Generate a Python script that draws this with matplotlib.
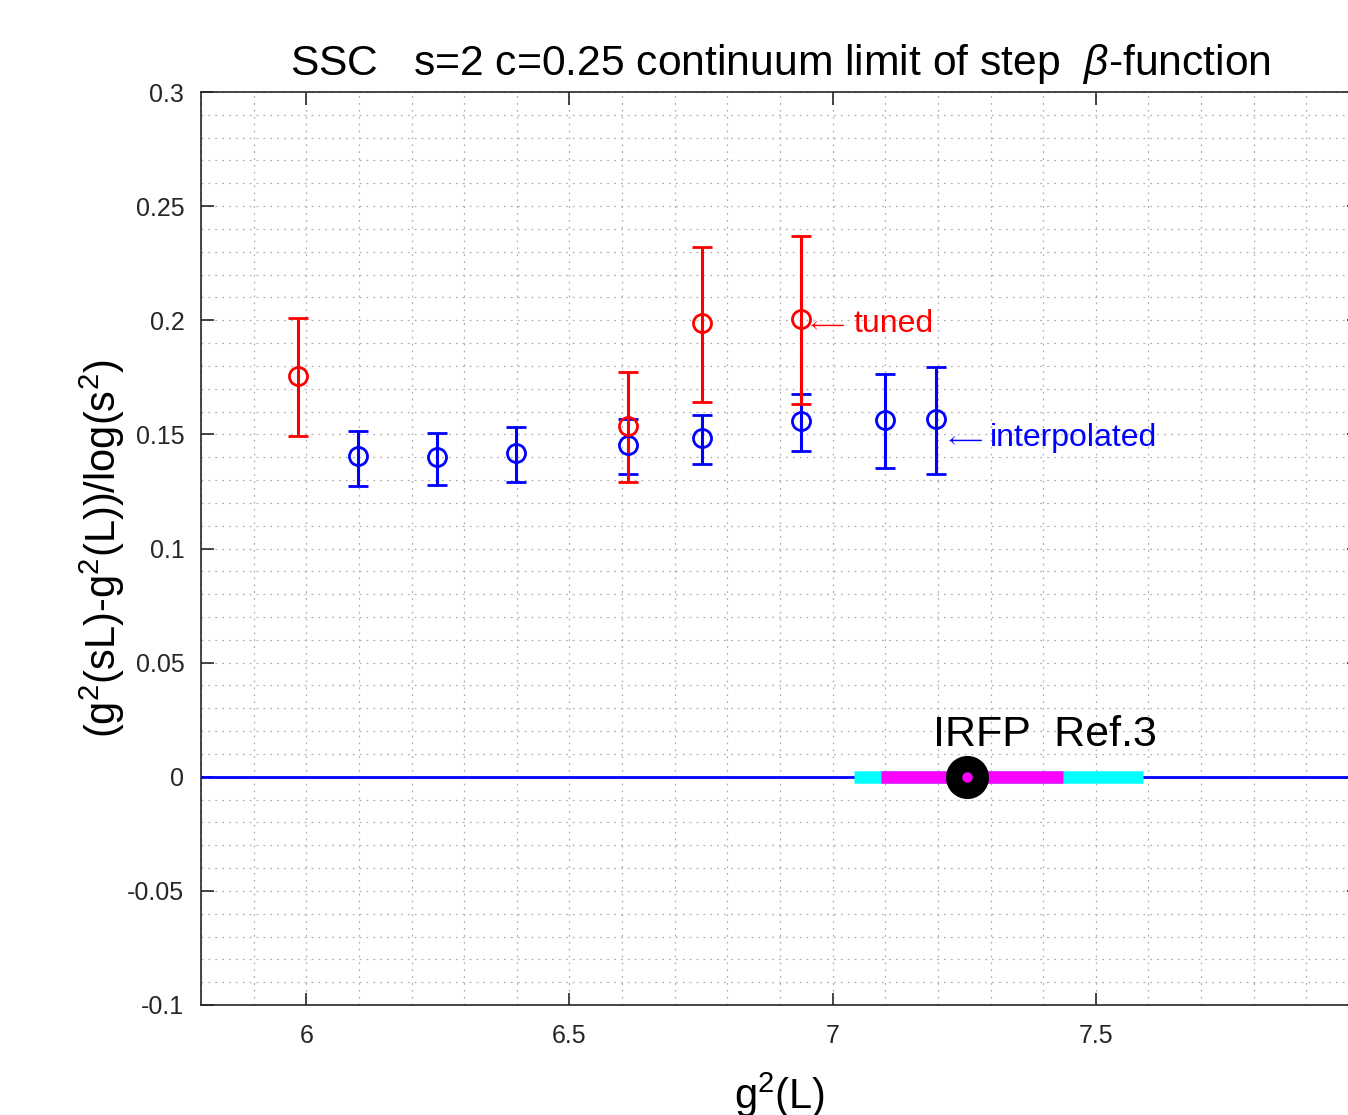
import matplotlib
matplotlib.use("Agg")
import matplotlib.pyplot as plt
from matplotlib.ticker import MultipleLocator

plt.rcParams['font.family'] = ['Liberation Sans', 'DejaVu Sans']
plt.rcParams['mathtext.fontset'] = 'custom'
plt.rcParams['mathtext.rm'] = 'Liberation Sans'
plt.rcParams['mathtext.it'] = 'Liberation Sans:italic'
plt.rcParams['mathtext.fallback'] = 'cm'

# tuned (red)
tuned_x = [5.985, 6.611, 6.751, 6.939]
tuned_y = [0.1756, 0.1537, 0.1988, 0.2005]
tuned_lo = [0.1493, 0.1291, 0.1642, 0.1633]
tuned_hi = [0.2010, 0.1773, 0.2321, 0.2369]

# interpolated (blue)
interp_x = [6.099, 6.249, 6.398, 6.611, 6.751, 6.939, 7.099, 7.197]
interp_y = [0.1405, 0.1401, 0.1418, 0.1453, 0.1484, 0.1559, 0.1563, 0.1567]
interp_lo = [0.1274, 0.1278, 0.1291, 0.1326, 0.1370, 0.1427, 0.1353, 0.1326]
interp_hi = [0.1515, 0.1506, 0.1532, 0.1567, 0.1585, 0.1677, 0.1764, 0.1795]

# IRFP fixed point (Ref.3)
irfp_x = 7.256
irfp_sys = [7.040, 7.590]
irfp_stat = [7.091, 7.438]

xlim = [5.8, 8.0]
ylim = [-0.1, 0.3]
xticks = [6, 6.5, 7, 7.5]
xticklabels = ['6', '6.5', '7', '7.5']
yticks = [-0.1, -0.05, 0, 0.05, 0.1, 0.15, 0.2, 0.25, 0.3]
yticklabels = ['-0.1', '-0.05', '0', '0.05', '0.1', '0.15', '0.2', '0.25', '0.3']

fig = plt.figure(figsize=(13.48, 11.15), dpi=100)
W, H = 1348, 1115
ax = fig.add_axes([201 / W, 1 - 1005 / H, (1359 - 201) / W, (1005 - 92) / H])

ax.set_xlim(xlim)
ax.set_ylim(ylim)

ax.set_xticks(xticks)
ax.set_xticklabels(xticklabels)
ax.set_yticks(yticks)
ax.set_yticklabels(yticklabels)
ax.xaxis.set_minor_locator(MultipleLocator(0.1))
ax.yaxis.set_minor_locator(MultipleLocator(0.01))
ax.grid(True, which='both', linestyle=(0, (1.5, 4)), color='#b0b0b0', linewidth=0.9)
ax.set_axisbelow(True)

ax.tick_params(axis='x', which='major', pad=14)
ax.tick_params(axis='y', which='major', pad=12)
ax.tick_params(which='major', direction='in', length=9, width=1.2, top=True, right=True,
               labelsize=18, colors='#262626')
ax.tick_params(which='minor', length=0, top=True, right=True)
for s in ax.spines.values():
    s.set_color('#262626')
    s.set_linewidth(1.2)

# zero line
ax.plot(xlim, [0, 0], color='#0000ff', lw=2.0, zorder=2)

# IRFP bands
ax.plot(irfp_sys, [0, 0], color='cyan', lw=9, solid_capstyle='butt', zorder=3)
ax.plot(irfp_stat, [0, 0], color='magenta', lw=9, solid_capstyle='butt', zorder=4)
ax.plot([irfp_x], [0], 'o', color='black', ms=30, zorder=5)
ax.plot([irfp_x], [0], 'o', color='magenta', ms=6.5, zorder=6)
ax.text(irfp_x - 0.066, 0.0095, 'IRFP  Ref.3', fontsize=31, color='black', ha='left', va='bottom')

# error bars
def eb(x, y, lo, hi, color):
    yerr = [[yy - l for yy, l in zip(y, lo)], [h - yy for yy, h in zip(y, hi)]]
    ax.errorbar(x, y, yerr=yerr, fmt='o', mfc='none', mec=color, ecolor=color, ms=13,
                mew=2.0, elinewidth=2.2, capsize=7, capthick=2.2, zorder=7)

eb(interp_x, interp_y, interp_lo, interp_hi, '#0000ff')
eb(tuned_x, tuned_y, tuned_lo, tuned_hi, '#ff0000')

# annotations: arrow glyph + word
ax.text(6.949, 0.1978, r'$\longleftarrow$', color='#ff0000', fontsize=16, ha='left', va='center')
ax.text(7.040, 0.1985, 'tuned', color='#ff0000', fontsize=23, ha='left', va='center')
ax.text(7.211, 0.1478, r'$\longleftarrow$', color='#0000ff', fontsize=16, ha='left', va='center')
ax.text(7.298, 0.1482, 'interpolated', color='#0000ff', fontsize=23, ha='left', va='center')

ax.set_title(r'SSC   s=2 c=0.25 continuum limit of step  $\beta$-function', fontsize=30.7, pad=12)
ax.set_xlabel(r'g$^2$(L)', fontsize=30, labelpad=16)
ax.set_ylabel(r'(g$^2$(sL)-g$^2$(L))/log(s$^2$)', fontsize=30, labelpad=0)

fig.savefig('out.png', dpi=100)
